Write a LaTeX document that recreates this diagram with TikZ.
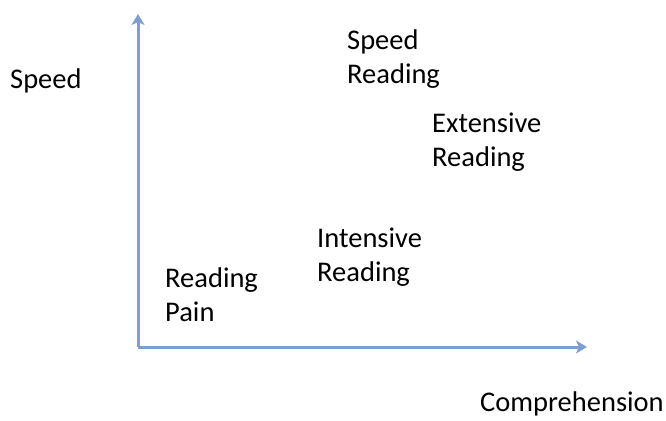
\documentclass[tikz,border=0pt]{standalone}
\usepackage{fontspec}
\setmainfont{Carlito}
\usetikzlibrary{arrows.meta, positioning}
\definecolor{axisblue}{RGB}{126,158,208}
\tikzset{
	axis/.style={-{Stealth[length=11pt,width=13pt,inset=3pt]},line width=3pt,axisblue},
	label/.style={
		anchor=base west,
		inner sep=0pt,
		align=left,
		font=\fontsize{28.5}{34}\selectfont
	}
}
\begin{document}
\begin{tikzpicture}[x=1pt,y=-1pt]
	\useasboundingbox (0,0) rectangle (666,420);

	\coordinate (O)    at (138,347);
	\coordinate (Ytop) at (138,14);
	\coordinate (Xend) at (587,347);

	\draw[axis] (O)--(Ytop);
	\draw[axis] (O)--(Xend);

	% base anchor sits on the last line
	\node[label] (speed)     at (10,88)   {Speed};
	\node[label] (comp)      at (480,411) {Comprehension};
	\node[label] (speedread) at (347,83)  {Speed\\Reading};
	\node[label] (extensive) at (432,166) {Extensive\\Reading};
	\node[label] (intensive) at (317,281) {Intensive\\Reading};
	\node[label] (pain)      at (165,321) {Reading\\Pain};
\end{tikzpicture}
\end{document}
